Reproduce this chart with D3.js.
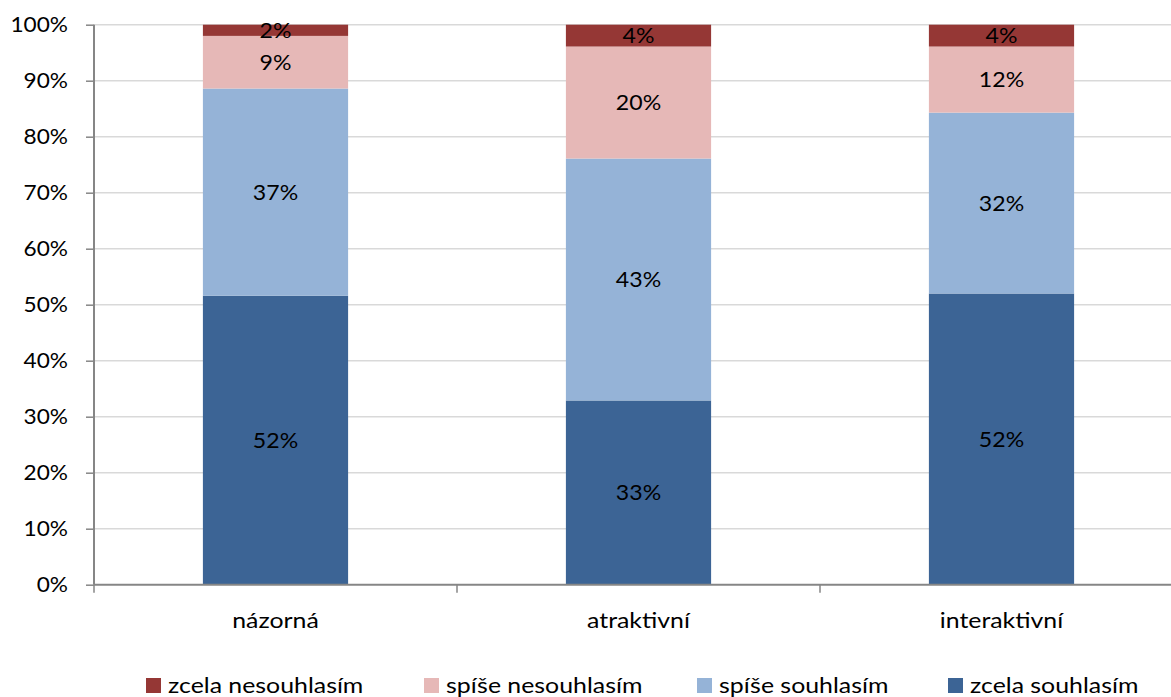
<!DOCTYPE html>
<html>
<head>
<meta charset="utf-8">
<script src="https://cdn.jsdelivr.net/npm/d3@7"></script>
<style>
  html, body { margin: 0; padding: 0; background: #fff; }
  svg { display: block; font-family: "Lato", "Carlito", sans-serif; }
</style>
</head>
<body>
<svg id="chart" width="1171" height="697"></svg>
<script>
// ---- data ----
const categories = ["názorná", "atraktivní", "interaktivní"];
const seriesNames = ["zcela souhlasím", "spíše souhlasím", "spíše nesouhlasím", "zcela nesouhlasím"];
const zcelaSouhlasim = [51.6, 32.9, 52.0];
const spiseSouhlasim = [37.0, 43.2, 32.3];
const spiseNesouhlasim = [9.4, 20.0, 11.8];
const zcelaNesouhlasim = [2.0, 3.9, 3.9];
const yTicks = [0, 10, 20, 30, 40, 50, 60, 70, 80, 90, 100];
const legendOrder = ["zcela nesouhlasím", "spíše nesouhlasím", "spíše souhlasím", "zcela souhlasím"];
const colors = {
  "zcela souhlasím": "#3C6495",
  "spíše souhlasím": "#95B3D7",
  "spíše nesouhlasím": "#E6B8B7",
  "zcela nesouhlasím": "#953735"
};

const seriesValues = [zcelaSouhlasim, spiseSouhlasim, spiseNesouhlasim, zcelaNesouhlasim];
const rows = categories.map((c, i) => {
  const r = { cat: c };
  seriesNames.forEach((s, k) => r[s] = seriesValues[k][i]);
  return r;
});

const svg = d3.select("#chart");
const W = 1171;
const x0 = 94, y0 = 584.7, yTop = 24.7;
const FS = 22;          // base font size
const SX_TEXT = 1.13;   // horizontal stretch of words
const SX_NUM = 1.05;    // horizontal stretch of numbers

const x = d3.scaleBand().domain(categories).range([x0, x0 + 3 * 363]).paddingInner(0.6).paddingOuter(0.3);
const y = d3.scaleLinear().domain([0, 100]).range([y0, yTop]);

function stretchedText(parent, px, py, str, sx, anchor) {
  parent.append("text")
    .attr("transform", `translate(${px},${py}) scale(${sx},1)`)
    .attr("dy", "0.35em")
    .attr("text-anchor", anchor)
    .attr("font-size", FS)
    .attr("fill", "#000")
    .text(str);
}

// gridlines
svg.append("g").selectAll("line").data(yTicks.filter(t => t > 0)).join("line")
  .attr("x1", x0).attr("x2", W).attr("y1", d => y(d)).attr("y2", d => y(d))
  .attr("stroke", "#D9D9D9").attr("stroke-width", 1.5);

// stacked bars
const stack = d3.stack().keys(seriesNames)(rows);
const layers = svg.append("g").selectAll("g").data(stack).join("g")
  .attr("fill", d => colors[d.key]);
layers.selectAll("rect").data(d => d).join("rect")
  .attr("x", d => x(d.data.cat))
  .attr("width", x.bandwidth())
  .attr("y", d => y(d[1]))
  .attr("height", d => y(d[0]) - y(d[1]));

// data labels
const lbl = svg.append("g");
stack.forEach(layer => {
  layer.forEach(d => {
    stretchedText(lbl, x(d.data.cat) + x.bandwidth() / 2, (y(d[0]) + y(d[1])) / 2,
      Math.round(d[1] - d[0]) + "%", SX_NUM, "middle");
  });
});

// y axis
const yAxis = d3.axisLeft(y).tickValues(yTicks).tickFormat("").tickSize(8);
const gy = svg.append("g").attr("transform", `translate(${x0},0)`).call(yAxis);
gy.select(".domain").attr("stroke", "#868686").attr("stroke-width", 2).attr("d", `M0,${yTop}V${y0}`);
gy.selectAll(".tick line").attr("stroke", "#868686").attr("stroke-width", 1.5);
const yl = svg.append("g");
yTicks.forEach(t => stretchedText(yl, 68, y(t), t + "%", 1.03, "end"));

// x axis
svg.append("line").attr("x1", x0).attr("x2", W).attr("y1", y0).attr("y2", y0)
  .attr("stroke", "#868686").attr("stroke-width", 2);
const bounds = categories.map(c => x(c) - x.step() * 0.3).concat([x(categories[2]) + x.step() * 0.7]);
svg.append("g").selectAll("line").data(bounds).join("line")
  .attr("x1", d => d).attr("x2", d => d).attr("y1", y0).attr("y2", y0 + 8)
  .attr("stroke", "#868686").attr("stroke-width", 1.5);
const xl = svg.append("g");
categories.forEach(c => stretchedText(xl, x(c) + x.bandwidth() / 2, 620, c, SX_TEXT, "middle"));

// legend
const legendX = [146, 424, 697, 948];
const lg = svg.append("g");
legendOrder.forEach((name, i) => {
  lg.append("rect").attr("x", legendX[i]).attr("y", 678).attr("width", 15).attr("height", 15)
    .attr("fill", colors[name]);
  stretchedText(lg, legendX[i] + 22, 685.5, name, SX_TEXT, "start");
});
</script>
</body>
</html>
